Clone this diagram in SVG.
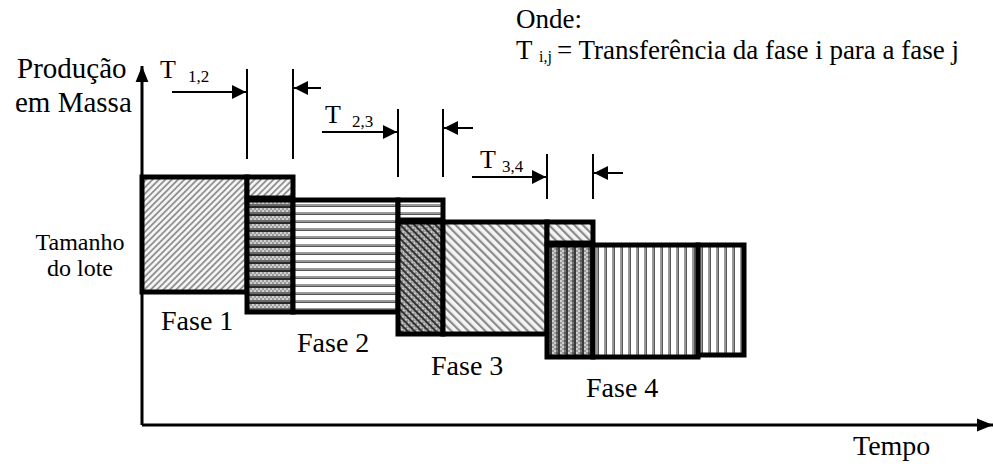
<svg xmlns="http://www.w3.org/2000/svg" width="993" height="468" viewBox="0 0 993 468" font-family="'Liberation Serif', 'DejaVu Serif', serif">
  <style>
    text { fill: #000; }
    .big { font-size: 28px; }
    .head { font-size: 29px; }
    .mid { font-size: 24px; }
    .lbl { font-size: 26px; }
    .sub { font-size: 17px; }
    .leg { font-size: 27px; }
    .legsub { font-size: 16px; }
    .box { stroke: #000; stroke-width: 5; }
    .axis { stroke: #000; stroke-width: 3; fill: none; }
    .dim { stroke: #000; stroke-width: 2; fill: none; }
  </style>
  <defs>
    <!-- light "/" hatch -->
    <pattern id="hatchFwd" patternUnits="userSpaceOnUse" width="4.5" height="4.5" patternTransform="rotate(45)">
      <rect width="4.5" height="4.5" fill="#f4f4f4"/>
      <rect width="1.8" height="4.5" fill="#919191"/>
    </pattern>
    <!-- light "\" hatch -->
    <pattern id="hatchBack" patternUnits="userSpaceOnUse" width="6" height="6" patternTransform="rotate(-45)">
      <rect width="6" height="6" fill="#f4f4f4"/>
      <rect width="2.2" height="6" fill="#8a8a8a"/>
    </pattern>
    <!-- dark horizontal bands with dotted texture -->
    <pattern id="darkHoriz" patternUnits="userSpaceOnUse" width="4" height="8">
      <rect width="4" height="8" fill="#9a9a9a"/>
      <rect x="0" y="0" width="2" height="2" fill="#d0d0d0"/>
      <rect x="2" y="2" width="2" height="2" fill="#d0d0d0"/>
      <rect x="0" y="4" width="2" height="2" fill="#6a6a6a"/>
      <rect x="2" y="4" width="2" height="2" fill="#6a6a6a"/>
      <rect x="0" y="6" width="4" height="2" fill="#2a2a2a"/>
    </pattern>
    <!-- white/grey horizontal stripes -->
    <pattern id="stripeHoriz" patternUnits="userSpaceOnUse" width="8" height="8">
      <rect width="8" height="8" fill="#ffffff"/>
      <rect y="4" width="8" height="2" fill="#999"/>
      <rect y="6" width="8" height="1" fill="#555"/>
    </pattern>
    <!-- dark "\" hatch with dotted texture -->
    <pattern id="darkBack" patternUnits="userSpaceOnUse" width="5" height="4" patternTransform="rotate(-45)">
      <rect width="5" height="4" fill="#8a8a8a"/>
      <rect width="2" height="2" fill="#c8c8c8"/>
      <rect x="2" y="2" width="1" height="2" fill="#c8c8c8"/>
      <rect x="3" width="2" height="4" fill="#333"/>
    </pattern>
    <!-- dark vertical bands with dotted texture -->
    <pattern id="darkVert" patternUnits="userSpaceOnUse" width="8" height="4">
      <rect width="8" height="4" fill="#9a9a9a"/>
      <rect x="0" y="0" width="2" height="2" fill="#d0d0d0"/>
      <rect x="2" y="2" width="2" height="2" fill="#d0d0d0"/>
      <rect x="4" y="0" width="2" height="2" fill="#5a5a5a"/>
      <rect x="4" y="2" width="2" height="2" fill="#777"/>
      <rect x="6" y="0" width="2" height="4" fill="#3a3a3a"/>
    </pattern>
    <!-- white/grey vertical stripes -->
    <pattern id="stripeVert" patternUnits="userSpaceOnUse" width="8" height="8">
      <rect width="8" height="8" fill="#ffffff"/>
      <rect x="4" width="2" height="8" fill="#999"/>
      <rect x="6" width="1" height="8" fill="#555"/>
    </pattern>
    <marker id="head" viewBox="0 0 10 10" refX="10" refY="5" markerWidth="14" markerHeight="14" markerUnits="userSpaceOnUse" orient="auto">
      <path d="M0,0 L10,5 L0,10 Z" fill="#000"/>
    </marker>
    <marker id="axisHead" viewBox="0 0 10 10" refX="10" refY="5" markerWidth="16" markerHeight="16" markerUnits="userSpaceOnUse" orient="auto">
      <path d="M0,1 L10,5 L0,9 Z" fill="#000"/>
    </marker>
  </defs>

  <!-- axes -->
  <g id="axes">
    <line class="axis" x1="142" y1="425" x2="142" y2="66" marker-end="url(#axisHead)"/>
    <line class="axis" x1="142" y1="425" x2="993" y2="425" marker-end="url(#axisHead)"/>
    <text class="head" x="17" y="78">Produção</text>
    <text class="head" x="15" y="112">em Massa</text>
    <text class="big" x="853" y="455">Tempo</text>
    <text class="mid" x="80" y="250" text-anchor="middle">Tamanho</text>
    <text class="mid" x="80" y="276" text-anchor="middle">do lote</text>
  </g>

  <!-- phase 1 -->
  <g id="fase1">
    <rect class="box" x="142" y="177" width="105" height="115" fill="url(#hatchFwd)"/>
    <rect class="box" x="247" y="177" width="46" height="21" fill="url(#hatchFwd)"/>
    <text class="big" x="161" y="330">Fase 1</text>
  </g>

  <!-- phase 2 -->
  <g id="fase2">
    <rect class="box" x="247" y="200" width="46" height="112" fill="url(#darkHoriz)"/>
    <rect class="box" x="293" y="200" width="105" height="112" fill="url(#stripeHoriz)"/>
    <rect class="box" x="398" y="200" width="45" height="20" fill="url(#stripeHoriz)"/>
    <text class="big" x="297" y="352">Fase 2</text>
  </g>

  <!-- phase 3 -->
  <g id="fase3">
    <rect class="box" x="398" y="222" width="45" height="112" fill="url(#darkBack)"/>
    <rect class="box" x="443" y="222" width="104" height="112" fill="url(#hatchBack)"/>
    <rect class="box" x="547" y="222" width="46" height="21" fill="url(#hatchBack)"/>
    <text class="big" x="431" y="375">Fase 3</text>
  </g>

  <!-- phase 4 -->
  <g id="fase4">
    <rect class="box" x="547" y="245" width="46" height="112" fill="url(#darkVert)"/>
    <rect class="box" x="593" y="245" width="105" height="112" fill="url(#stripeVert)"/>
    <rect class="box" x="698" y="245" width="46" height="110" fill="url(#stripeVert)"/>
    <text class="big" x="586" y="397">Fase 4</text>
  </g>

  <!-- transfer intervals -->
  <g id="connectors">
    <line class="dim" x1="247" y1="69" x2="247" y2="159"/>
    <line class="dim" x1="293" y1="69" x2="293" y2="159"/>
    <line class="dim" x1="172" y1="92" x2="246" y2="92" marker-end="url(#head)"/>
    <line class="dim" x1="321" y1="88" x2="294" y2="88" marker-end="url(#head)"/>

    <line class="dim" x1="398" y1="109" x2="398" y2="177"/>
    <line class="dim" x1="443" y1="109" x2="443" y2="177"/>
    <line class="dim" x1="322" y1="132" x2="397" y2="132" marker-end="url(#head)"/>
    <line class="dim" x1="473" y1="128" x2="444" y2="128" marker-end="url(#head)"/>

    <line class="dim" x1="547" y1="154" x2="547" y2="199"/>
    <line class="dim" x1="593" y1="154" x2="593" y2="199"/>
    <line class="dim" x1="472" y1="177" x2="546" y2="177" marker-end="url(#head)"/>
    <line class="dim" x1="623" y1="173" x2="594" y2="173" marker-end="url(#head)"/>
  </g>

  <!-- transfer labels -->
  <g id="labels">
    <text class="lbl" x="160" y="78">T</text>
    <text class="sub" x="188" y="82">1,2</text>
    <text class="lbl" x="325" y="123">T</text>
    <text class="sub" x="352" y="127">2,3</text>
    <text class="lbl" x="480" y="168">T</text>
    <text class="sub" x="502" y="172">3,4</text>
  </g>

  <!-- legend -->
  <g id="legend">
    <text class="leg" x="516" y="28">Onde:</text>
    <text class="leg" x="516" y="59">T</text>
    <text class="legsub" x="539" y="62">i,j</text>
    <text class="leg" x="557" y="59">= Transferência da fase i para a fase j</text>
  </g>
</svg>
